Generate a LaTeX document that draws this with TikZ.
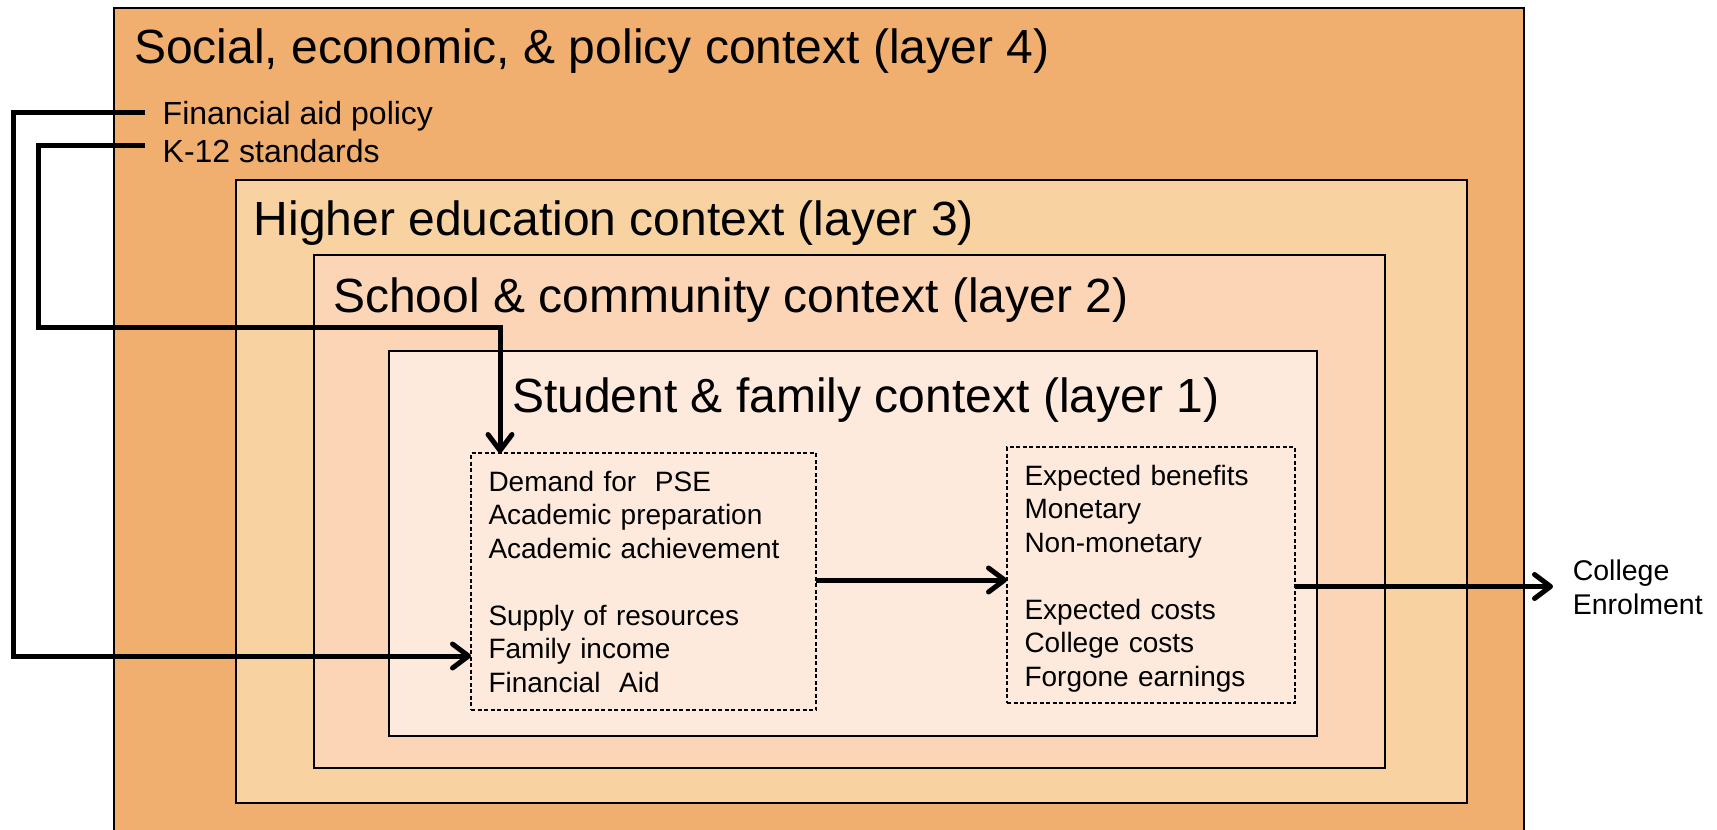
\documentclass[tikz,border=0pt]{standalone}
\usepackage{fontspec}
\setmainfont{Liberation Sans}
\usetikzlibrary{arrows.meta}
\definecolor{lfour}{HTML}{F0AF6E}
\definecolor{lthree}{HTML}{F8D3A1}
\definecolor{ltwo}{HTML}{FCD5B7}
\definecolor{lone}{HTML}{FDEADC}
\begin{document}
\begin{tikzpicture}[x=1pt,y=-1pt,
  layer/.style={draw=black, line width=2pt, inner sep=0pt, outer sep=0pt, anchor=north west},
  title/.style={anchor=base west, inner sep=0pt, font=\fontsize{48}{56}\selectfont},
  lbl/.style={anchor=base west, inner sep=0pt, font=\fontsize{32}{38}\selectfont},
  dbox/.style={draw=black, line width=1.3pt, dash pattern=on 4pt off 2.5pt, anchor=north west,
    inner xsep=17.5pt, inner ysep=0pt, outer sep=0pt, align=left, font=\fontsize{28}{33.5}\selectfont},
  conn/.style={line width=5pt, -{Straight Barb[length=16pt,width=24pt,line cap=round,line join=round]}},
  ctext/.style={anchor=west, inner sep=0pt, align=left, font=\fontsize{28.5}{34}\selectfont}
]
\clip (0,0) rectangle (1717,830);
\fill[white] (0,0) rectangle (1717,830);
% layers
\node[layer, fill=lfour, minimum width=1410pt, minimum height=860pt] (L4) at (114,7.5) {};
\node[layer, fill=lthree, minimum width=1231pt, minimum height=623pt] (L3) at (236,180) {};
\node[layer, fill=ltwo, minimum width=1071pt, minimum height=513pt] (L2) at (314,255) {};
\node[layer, fill=lone, minimum width=928pt, minimum height=385pt] (L1) at (389,351) {};
% titles
\node[title] (T4) at (134,63) {Social, economic, \& policy context (layer 4)};
\node[title] (T3) at (253.5,235.5) {Higher education context (layer 3)};
\node[title] (T2) at (333,312) {School \& community context (layer 2)};
\node[title] (T1) at (512,412) {Student \& family context (layer 1)};
% policy labels
\node[lbl] (fa) at (162.5,124.5) {Financial aid policy};
\node[lbl] (k12) at (162.5,162.5) {K-12 standards};
% dashed boxes
\node[dbox, text width=310pt, minimum height=257pt] (b1) at (471,453)
  {Demand for\ \ PSE\\Academic preparation\\Academic achievement\\\mbox{}\\Supply of resources\\Family income\\Financial\ \ Aid};
\node[dbox, text width=253pt, minimum height=256pt] (b2) at (1007,447)
  {\rule{0pt}{27pt}Expected benefits\\Monetary\\Non-monetary\\\mbox{}\\Expected costs\\College costs\\Forgone earnings};
% outcome
\node[ctext] (ce) at (1572.6,587.5) {College\\Enrolment};
% coordinates
\coordinate (fa0) at (145,112);
\coordinate (faL) at (13,656);
\coordinate (k0) at (145,145);
\coordinate (kL) at (38,327);
\coordinate (kx) at (500,327);
\coordinate (ceA) at (1553,586.5);
% connectors
\draw[conn] (fa0) -| (faL) -- (b1.west |- faL);
\draw[conn] (k0) -| (kL) -| (kx |- b1.north);
\draw[conn] (b1.east |- 0,580) -- (b2.west |- 0,580);
\draw[conn] (b2.east |- ceA) -- (ceA);
\end{tikzpicture}
\end{document}
